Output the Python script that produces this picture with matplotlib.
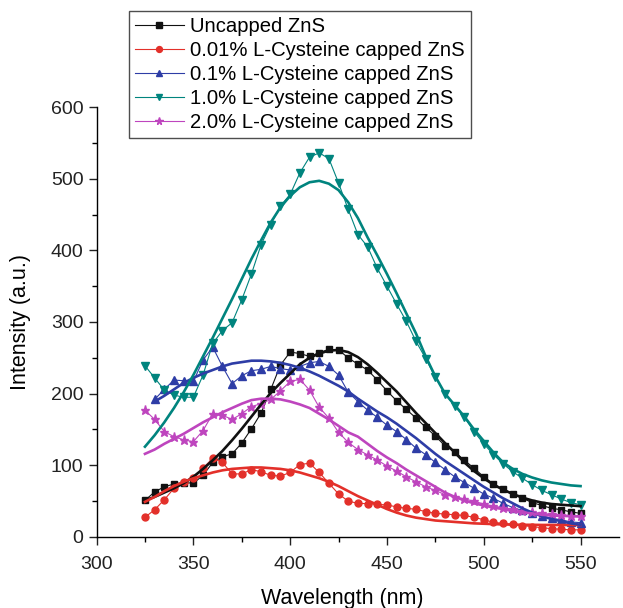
import numpy as np
import matplotlib
matplotlib.use("Agg")
import matplotlib.pyplot as plt
from matplotlib.ticker import MultipleLocator

plt.rcParams['font.family'] = ['Liberation Sans', 'DejaVu Sans']

# ---------------- data ----------------
wl = list(range(325, 551, 5))          # 325..550 nm
wl_blue = list(range(330, 551, 5))     # 330..550 nm

uncapped = [51, 63, 70, 74, 76, 75, 86, 104, 112, 116, 131, 151, 173, 206, 240, 258, 256, 252, 257, 262, 261,
            250, 241, 233, 219, 204, 190, 178, 166, 153, 141, 127, 119, 107, 96, 84, 74, 67, 60, 54, 48, 44, 40, 38, 35, 33]
uncapped_fit = [51, 56, 62, 68, 75, 84, 95, 107, 120, 135, 151, 168, 185, 201, 215, 228, 241, 250, 256, 260, 261,
                258, 251, 241, 229, 216, 203, 188, 173, 159, 145, 131, 118, 104, 92, 82, 73, 66, 60, 55, 51, 48, 46, 45, 44, 43]

c001 = [27.5, 38, 52, 68, 77, 82, 96, 110, 104, 88, 88, 94, 91, 86, 85, 90, 101, 103, 90, 75,
        60, 50, 47, 46.5, 45.6, 44.7, 42, 40, 38.6, 35.4, 33, 32, 31, 30, 27.5, 24, 20.5, 19, 17.7, 16, 14.4, 13, 11.6, 10.7, 10, 10]
c001_fit = [49, 56, 64, 71, 77, 82, 86, 90, 93, 95, 96, 97, 97, 96, 95, 93, 90, 86, 82, 77,
            71, 64, 57, 51, 45, 39, 34, 30, 27, 25, 23, 22, 21, 20, 19, 18.5, 18, 17.5, 17.2, 17, 17, 16.8, 16.8, 16.7, 16.7, 16.7]

c01 = [192, 206, 219, 218, 217, 247, 265, 238, 214, 225, 232, 234, 238, 235, 233, 238, 243, 245, 238,
       226, 202, 189, 177, 167, 156, 147, 136, 124, 115, 104, 94, 84, 76, 68, 60, 54, 47, 41, 37, 33, 29, 26, 24, 21, 20]
c01_fit = [189, 197, 206, 215, 222, 228, 233, 238, 242, 244, 246, 246, 245, 243, 240, 236, 231, 225, 218,
           211, 203, 193, 184, 175, 167, 158, 148, 138, 127, 116, 106, 97, 88, 79, 70, 62, 54, 47, 40, 34, 29, 25, 22, 19, 17]

c10 = [239, 222, 205, 198, 195, 195, 226, 270, 288, 299, 331, 367, 408, 436, 462, 478, 508, 530, 536, 528,
       494, 457, 422, 405, 375, 350, 325, 301, 273, 249, 223, 200, 183, 167, 147, 130, 115, 102, 91, 82, 73, 65, 59, 53, 48, 45]
c10_fit = [126, 142, 160, 180, 202, 226, 252, 278, 305, 332, 360, 388, 414, 439, 460, 476, 488, 495, 497, 493,
           484, 467, 445, 418, 393, 367, 340, 312, 284, 252, 224, 200, 184, 168, 150, 134, 118, 104, 95, 88, 83, 79, 76, 74, 72, 71]

c20 = [177, 164, 147, 140, 135.5, 133, 148.5, 172, 170, 164, 172, 182, 186, 192, 204, 217, 220, 205, 181, 166,
       146, 132, 122, 114.5, 107.5, 99, 92, 84, 77, 70, 65, 59, 56, 53, 50, 46, 43, 41, 38.6, 36.3, 34.5, 33, 31.7, 30.7, 29.8, 29.3]
c20_fit = [116, 122, 130, 137, 144, 152, 160, 167, 174, 180, 186, 191, 193, 193, 192, 189, 185, 180, 172, 164,
           155, 146, 140, 130, 120, 111, 103, 94, 86, 78, 70, 62, 56, 51, 47, 44, 41, 39, 36, 34, 33, 31, 30, 29.5, 29, 28.5]

labels = ["Uncapped ZnS", "0.01% L-Cysteine capped ZnS", "0.1% L-Cysteine capped ZnS",
          "1.0% L-Cysteine capped ZnS", "2.0% L-Cysteine capped ZnS"]

# ---------------- styling ----------------
colors = ['#111111', '#E3302A', '#2E3DA6', '#00847E', '#BE45BE']
markers = ['s', 'o', '^', 'v', '*']
msizes = [4.6, 5, 5.5, 5.5, 6.5]

series = [(wl, uncapped, uncapped_fit), (wl, c001, c001_fit), (wl_blue, c01, c01_fit),
          (wl, c10, c10_fit), (wl, c20, c20_fit)]

fig = plt.figure(figsize=(6.23, 6.08), dpi=100)
ax = fig.add_axes([0.155, 0.1168, 0.839, 0.7072])

handles = []
for (x, y, yf), c, m, ms, lab in zip(series, colors, markers, msizes, labels):
    h, = ax.plot(x, y, color=c, lw=0.8, marker=m, ms=ms, mec=c, mfc=c, label=lab, zorder=2)
    ax.plot(x, yf, color=c, lw=1.9, zorder=3)
    handles.append(h)

ax.set_xlim(300, 570)
ax.set_ylim(0, 600)
ax.xaxis.set_minor_locator(MultipleLocator(25))
ax.yaxis.set_major_locator(MultipleLocator(100))
ax.yaxis.set_minor_locator(MultipleLocator(50))
ax.set_xticks([300, 350, 400, 450, 500, 550])
ax.tick_params(which='major', direction='out', length=6, width=1, labelsize=14, colors='#222222')
ax.tick_params(which='minor', direction='out', length=3.5, width=1)
ax.tick_params(axis='x', pad=8)
for s in ['top', 'right']:
    ax.spines[s].set_visible(False)
for s in ['left', 'bottom']:
    ax.spines[s].set_linewidth(1)

ax.set_xlabel("Wavelength (nm)", fontsize=15.5)
ax.set_ylabel("Intensity (a.u.)", fontsize=15.5)
ax.xaxis.set_label_coords(0.47, -0.118)
ax.yaxis.set_label_coords(-0.125, 0.5)

leg = fig.legend(handles=handles, loc='upper left', bbox_to_anchor=(0.207, 0.982),
                 bbox_transform=fig.transFigure, fontsize=14.6, frameon=True, fancybox=False,
                 edgecolor='#222222', borderaxespad=0, numpoints=1, handlelength=2.4,
                 handletextpad=0.3, labelspacing=0.25, borderpad=0.3, markerscale=0.85)
leg.get_frame().set_linewidth(1)

fig.savefig("out.png", dpi=100)
